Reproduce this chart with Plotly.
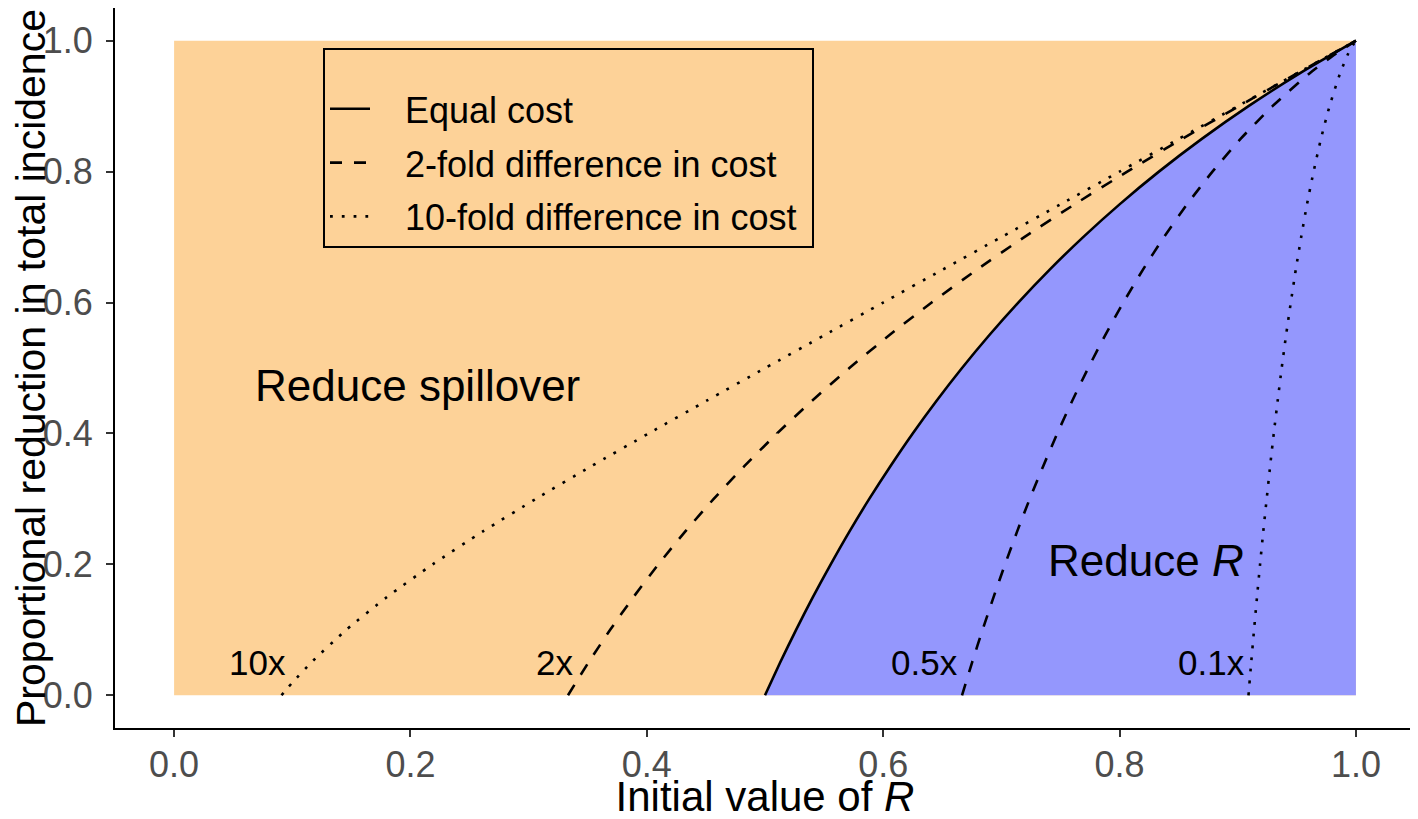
import plotly.graph_objects as go

# ---- data ----
region_x = [0.0, 1.0]
region_y = [0.0, 1.0]

# proportional reduction in total incidence (y) and the matching initial R on each curve
equal_y = [0.00, 0.05, 0.10, 0.15, 0.20, 0.25, 0.30, 0.35, 0.40, 0.45, 0.50,
           0.55, 0.60, 0.65, 0.70, 0.75, 0.80, 0.85, 0.90, 0.95, 1.00]
equal_R = [0.5000, 0.5128, 0.5263, 0.5405, 0.5556, 0.5714, 0.5882, 0.6061, 0.6250, 0.6452, 0.6667,
           0.6897, 0.7143, 0.7407, 0.7692, 0.8000, 0.8333, 0.8696, 0.9091, 0.9524, 1.0000]

fold2_y = [0.00, 0.05, 0.10, 0.15, 0.20, 0.25, 0.30, 0.35, 0.40, 0.45, 0.50,
           0.55, 0.60, 0.65, 0.70, 0.75, 0.80, 0.85, 0.90, 0.95, 1.00]
fold2_R = [0.3333, 0.3506, 0.3690, 0.3887, 0.4098, 0.4324, 0.4566, 0.4825, 0.5102, 0.5398, 0.5714,
           0.6051, 0.6410, 0.6791, 0.7194, 0.7619, 0.8065, 0.8529, 0.9009, 0.9501, 1.0000]

fold10_y = [0.00, 0.01, 0.02, 0.05, 0.10, 0.15, 0.20, 0.25, 0.30, 0.35, 0.40, 0.45, 0.50,
            0.55, 0.60, 0.65, 0.70, 0.75, 0.80, 0.85, 0.90, 0.95, 1.00]
fold10_R = [0.0909, 0.0955, 0.1004, 0.1160, 0.1457, 0.1801, 0.2188, 0.2610, 0.3061, 0.3531, 0.4015, 0.4506, 0.5002,
            0.5501, 0.6000, 0.6500, 0.7000, 0.7500, 0.8000, 0.8500, 0.9000, 0.9500, 1.0000]

half_y = [0.00, 0.05, 0.10, 0.15, 0.20, 0.25, 0.30, 0.35, 0.40, 0.45, 0.50,
          0.55, 0.60, 0.65, 0.70, 0.75, 0.80, 0.85, 0.90, 0.95, 0.98, 1.00]
half_R = [0.6667, 0.6752, 0.6841, 0.6934, 0.7031, 0.7133, 0.7240, 0.7354, 0.7473, 0.7600, 0.7735,
          0.7878, 0.8032, 0.8197, 0.8376, 0.8571, 0.8786, 0.9024, 0.9294, 0.9607, 0.9828, 1.0000]

tenth_y = [0.00, 0.05, 0.10, 0.15, 0.20, 0.25, 0.30, 0.35, 0.40, 0.45, 0.50,
           0.55, 0.60, 0.65, 0.70, 0.75, 0.80, 0.85, 0.90, 0.95, 0.98, 0.99, 1.00]
tenth_R = [0.9091, 0.9114, 0.9138, 0.9163, 0.9189, 0.9216, 0.9245, 0.9274, 0.9305, 0.9338, 0.9372,
           0.9409, 0.9449, 0.9491, 0.9537, 0.9586, 0.9642, 0.9704, 0.9777, 0.9866, 0.9934, 0.9963, 1.0000]

cost_labels = ["10x", "2x", "0.5x", "0.1x"]
cost_label_x = [0.096, 0.339, 0.665, 0.908]
cost_label_y = [0.05, 0.05, 0.05, 0.05]

region_labels = ["Reduce spillover", "Reduce <i>R</i>"]
region_label_x = [0.206, 0.822]
region_label_y = [0.473, 0.206]

legend_names = ["Equal cost", "2-fold difference in cost", "10-fold difference in cost"]

tick_vals = [0.0, 0.2, 0.4, 0.6, 0.8, 1.0]
tick_text = ["0.0", "0.2", "0.4", "0.6", "0.8", "1.0"]

# ---- styles ----
FONT = "Liberation Sans, Arial, sans-serif"
ORANGE = "#FDD298"
BLUE = "#9497FD"
LW = 2.6
DASH = "12px,12px"
DOT = "2.8px,9px"
NB = "\u00a0"

fig = go.Figure()

fig.add_trace(go.Scatter(
    x=[region_x[0], region_x[1], region_x[1], region_x[0]],
    y=[region_y[0], region_y[0], region_y[1], region_y[1]],
    fill="toself", fillcolor=ORANGE, mode="lines", line=dict(width=0),
    showlegend=False, hoverinfo="skip"))

fig.add_trace(go.Scatter(
    x=equal_R + [region_x[1]], y=equal_y + [region_y[0]],
    mode="lines", fill="toself", fillcolor=BLUE, line=dict(width=0),
    showlegend=False, hoverinfo="skip"))

spl = dict(shape="spline", smoothing=0.6)

fig.add_trace(go.Scatter(
    x=equal_R, y=equal_y, mode="lines", name=NB * 3 + legend_names[0], legendgroup="a",
    line=dict(color="black", width=LW, **spl)))
fig.add_trace(go.Scatter(
    x=fold2_R, y=fold2_y, mode="lines", name=NB * 3 + legend_names[1], legendgroup="b",
    line=dict(color="black", width=LW, dash=DASH, **spl)))
fig.add_trace(go.Scatter(
    x=half_R, y=half_y, mode="lines", name=NB * 3 + legend_names[1], legendgroup="b",
    showlegend=False, line=dict(color="black", width=LW, dash=DASH, **spl)))
fig.add_trace(go.Scatter(
    x=fold10_R, y=fold10_y, mode="lines", name=NB * 3 + legend_names[2] + NB, legendgroup="c",
    line=dict(color="black", width=LW, dash=DOT, **spl)))
fig.add_trace(go.Scatter(
    x=tenth_R, y=tenth_y, mode="lines", name=NB * 3 + legend_names[2], legendgroup="c",
    showlegend=False, line=dict(color="black", width=LW, dash=DOT, **spl)))

for t, x, y in zip(cost_labels, cost_label_x, cost_label_y):
    fig.add_annotation(x=x, y=y, text=t, showarrow=False, xanchor="right",
                       yanchor="middle", font=dict(family=FONT, size=35, color="black"))

for t, x, y in zip(region_labels, region_label_x, region_label_y):
    fig.add_annotation(x=x, y=y, text=t, showarrow=False, xanchor="center",
                       yanchor="middle", font=dict(family=FONT, size=44, color="black"))

axis_common = dict(
    showline=True, linecolor="black", linewidth=2.2, mirror=False,
    ticks="outside", ticklen=7, tickwidth=2, tickcolor="#333333",
    showgrid=False, zeroline=False, automargin=False,
    tickvals=tick_vals, ticktext=tick_text,
    tickfont=dict(family=FONT, size=36, color="#4D4D4D"),
)

# the page adds a small body margin, so the figure is made slightly smaller
fig.update_layout(
    width=1411, height=812,
    margin=dict(l=107, r=4, t=0, b=92),
    paper_bgcolor="white", plot_bgcolor="white",
    font=dict(family=FONT, color="black"),
    xaxis=dict(range=[-0.05, 1.05], title=dict(text="Initial value of <i>R</i>",
               font=dict(family=FONT, size=42, color="black"), standoff=12),
               ticklabelstandoff=-3, **axis_common),
    yaxis=dict(range=[-0.05, 1.05], title=dict(text="Proportional reduction in total incidence",
               font=dict(family=FONT, size=41, color="black"), standoff=8),
               ticklabelstandoff=6, **axis_common),
    legend=dict(x=0.16, y=0.944, xanchor="left", yanchor="top",
                bgcolor="rgba(0,0,0,0)", bordercolor="black", borderwidth=2,
                font=dict(family=FONT, size=36, color="black"),
                title=dict(text=" ", font=dict(size=22)),
                tracegroupgap=4, itemwidth=40),
    showlegend=True,
)

fig.write_html("out.html")
